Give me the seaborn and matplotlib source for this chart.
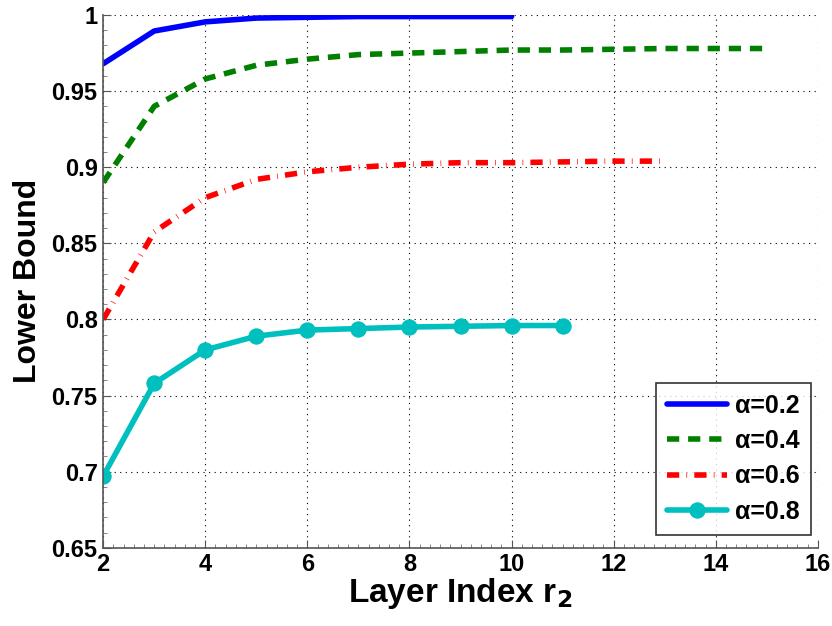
import numpy as np
import pandas as pd
import matplotlib
matplotlib.use('Agg')
import matplotlib.pyplot as plt
import seaborn as sns
from matplotlib.ticker import MultipleLocator

# values
x_a02 = [2, 3, 4, 5, 6, 7, 8, 9, 10]
y_a02 = [0.968, 0.9895, 0.9955, 0.998, 0.9985, 0.999, 0.999, 0.999, 0.999]

x_a04 = [2, 3, 4, 5, 6, 7, 8, 9, 10, 11, 12, 13, 14, 15]
y_a04 = [0.890, 0.940, 0.958, 0.967, 0.971, 0.974, 0.975, 0.976, 0.977, 0.977, 0.9775, 0.978, 0.978, 0.978]

x_a06 = [2, 3, 4, 5, 6, 7, 8, 9, 10, 11, 12, 13]
y_a06 = [0.800, 0.8575, 0.880, 0.892, 0.897, 0.900, 0.902, 0.903, 0.903, 0.9035, 0.904, 0.904]

x_a08 = [2, 3, 4, 5, 6, 7, 8, 9, 10, 11]
y_a08 = [0.697, 0.758, 0.780, 0.789, 0.793, 0.794, 0.795, 0.7955, 0.796, 0.796]

labels = ['\u03b1=0.2', '\u03b1=0.4', '\u03b1=0.6', '\u03b1=0.8']
ytick_vals = [0.65, 0.7, 0.75, 0.8, 0.85, 0.9, 0.95, 1.0]
ytick_labels = ['0.65', '0.7', '0.75', '0.8', '0.85', '0.9', '0.95', '1']

sns.set_style('white', {'xtick.bottom': True, 'ytick.left': True,
                        'text.color': 'black', 'xtick.color': 'black',
                        'ytick.color': 'black', 'axes.labelcolor': 'black'})
plt.rcParams['font.family'] = ['Liberation Sans', 'DejaVu Sans']
plt.rcParams['font.weight'] = 'bold'

fig = plt.figure(figsize=(8.32, 6.26), dpi=100)
ax = fig.add_axes([0.124, 0.125, 0.859, 0.851])

sns.lineplot(x=x_a02, y=y_a02, ax=ax, color='#0000ff', linewidth=4, label=labels[0])
sns.lineplot(x=x_a04, y=y_a04, ax=ax, color='#007f00', linewidth=4,
             linestyle=(0, (2.2, 1.6)), label=labels[1])
sns.lineplot(x=x_a06, y=y_a06, ax=ax, color='#ff0000', linewidth=4,
             linestyle=(0, (2.2, 1.3, 0.12, 1.3)), label=labels[2])
sns.lineplot(x=x_a08, y=y_a08, ax=ax, color='#00bfbf', linewidth=4,
             marker='o', markersize=11, markeredgecolor='#00bfbf', label=labels[3])

ax.set_xlim(2, 16)
ax.set_ylim(0.65, 1.0)
ax.xaxis.set_major_locator(MultipleLocator(2))
ax.set_yticks(ytick_vals)
ax.set_yticklabels(ytick_labels)
ax.xaxis.set_minor_locator(MultipleLocator(0.2))
ax.yaxis.set_minor_locator(MultipleLocator(0.01))

ax.grid(True, which='major', linestyle=(0, (1, 4)), color='black', linewidth=0.8)
ax.tick_params(which='both', direction='in', labelsize=17, pad=4, colors='#555555',
               labelcolor='black')
ax.tick_params(which='major', length=6, width=0.8)
ax.tick_params(which='minor', length=3, width=0.5)
for lab in ax.get_xticklabels() + ax.get_yticklabels():
    lab.set_fontweight('bold')

for side in ['top', 'right']:
    ax.spines[side].set_visible(False)
for side in ['left', 'bottom']:
    ax.spines[side].set_color('#555555')
    ax.spines[side].set_linewidth(1.2)

ax.set_xlabel('Layer Index r$_\\mathbf{2}$', fontsize=24, fontweight='bold', labelpad=0)
ax.set_ylabel('Lower Bound', fontsize=23, fontweight='bold', labelpad=6)

leg = ax.legend(loc='lower right', fontsize=18, frameon=True, fancybox=False,
                edgecolor='black', handlelength=2.4, borderpad=0.45,
                labelspacing=0.45, handletextpad=0.3, borderaxespad=0,
                bbox_to_anchor=(0.99, 0.024))
leg.get_frame().set_linewidth(1.2)
for t in leg.get_texts():
    t.set_fontweight('bold')

fig.savefig('out.png', dpi=100)
plt.close()
